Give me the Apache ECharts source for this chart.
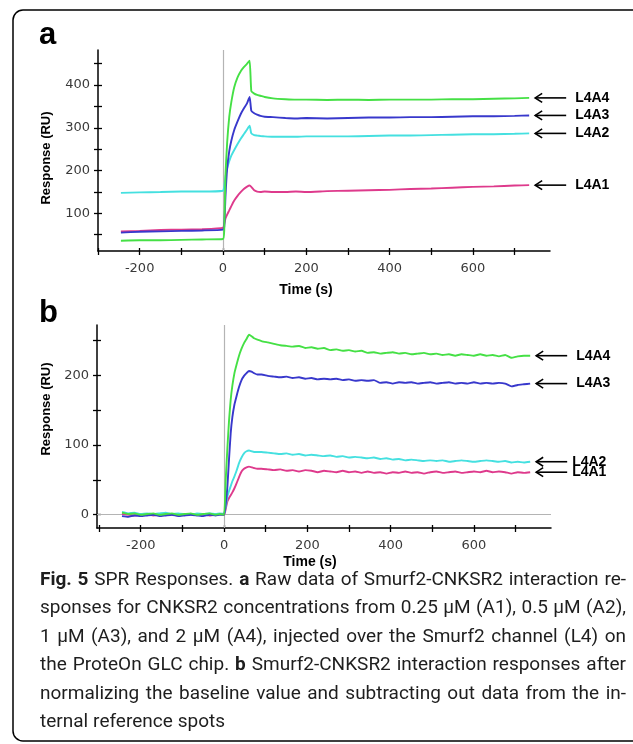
<!DOCTYPE html>
<html><head><meta charset="utf-8">
<script src="https://cdn.jsdelivr.net/npm/echarts@6/dist/echarts.min.js"></script>
<style>html,body{margin:0;padding:0;background:#fff}#c{width:633px;height:744px}</style>
</head><body><div id="c"></div>
<script>
// ---------- data ----------
const seriesNames = ['L4A1', 'L4A2', 'L4A3', 'L4A4'];
const seriesColors = ['#de3a8c', '#45e0e0', '#3838cc', '#45e045'];

// panel a: raw data
const timeA = [-245,-200,-150,-100,-50,0,3,6,10,15,20,27,35,43,50,57,64,68,75,82,90,100,120,150,175,200,250,300,350,400,450,500,550,600,650,700,735];
const a_L4A1 = [58,59,61,62,63,66,75,88,97,107,117,130,141,150,157,162,165,162,154,151,150,151,150,150,151,150,152,153,154,155,157,158,160,162,163,165,166];
const a_L4A2 = [148,149,150,151,151,153,162,185,205,222,235,248,262,275,285,295,305,287,283,282,281,280,279,279,279,280,280,280,281,282,282,283,284,285,285,286,287];
const a_L4A3 = [55,57,58,59,60,62,68,140,205,245,270,295,315,333,345,356,372,340,334,331,328,326,325,323,322,323,322,323,324,324,325,325,326,327,327,328,329];
const a_L4A4 = [36,37,37,38,39,40,60,190,265,325,360,395,418,433,442,449,457,386,380,377,375,372,369,367,366,366,365,366,365,366,366,366,367,367,368,369,370];

// panel b: normalized / reference subtracted
const timeB = [-245,-230,-215,-200,-185,-170,-155,-140,-125,-110,-95,-80,-65,-50,-35,-20,-10,0,
  4,8,12,16,20,25,30,36,42,48,54,60,66,72,80,
  90,105,120,135,150,165,180,195,210,225,240,255,270,285,300,315,330,345,360,375,390,405,420,435,450,465,480,495,510,525,540,555,570,585,600,615,630,645,660,675,690,705,720,735];
const b_L4A1 = [1,0,-1,0,1,-1,0,1,0,-1,0,1,0,0,-1,0,1,0,
  8,19,24,28,32,38,45,54,62,66,68,69,68,67,66,
  66,65,64,65,63,64,62,64,63,61,63,62,61,63,61,62,60,62,60,61,59,61,60,62,60,61,59,61,62,60,61,62,60,61,62,61,63,61,62,61,59,61,60,61];
const b_L4A2 = [4,2,3,1,2,1,2,3,1,2,1,0,2,1,2,1,2,1,
  12,26,34,41,48,55,63,74,82,88,91,92,91,90,90,
  90,89,88,87,88,86,87,85,86,85,84,85,83,84,82,83,82,81,82,80,81,79,80,78,79,78,77,78,77,78,76,77,78,77,76,77,78,77,76,77,75,76,75,76];
const b_L4A3 = [-2,-3,-1,-2,-1,0,-2,-1,0,-2,-1,0,-1,-2,0,-1,0,0,
  15,40,80,117,140,158,170,183,193,199,203,206,205,203,201,
  201,199,198,197,198,196,197,195,196,194,195,194,195,193,194,192,193,192,193,189,190,188,190,189,190,188,189,190,188,189,190,188,189,188,190,188,189,188,189,188,184,186,187,188];
const b_L4A4 = [3,1,2,0,1,2,0,1,2,0,1,2,0,1,2,0,1,0,
  50,95,135,165,185,203,215,228,238,246,252,258,256,253,251,
  249,247,245,243,242,241,242,239,240,238,239,236,237,235,236,234,235,232,233,231,232,233,231,232,230,231,232,230,231,229,230,228,230,229,228,230,228,229,227,229,225,227,228,228];

// axes ticks / labels
const xTickValues = [-300,-200,-100,0,100,200,300,400,500,600,700];
const xLabelValues = [-200,0,200,400,600];
const yTickValuesA = [50,100,150,200,250,300,350,400,450];
const yLabelValuesA = [100,200,300,400];
const yTickValuesB = [0,50,100,150,200,250];
const yLabelValuesB = [0,100,200];

// caption: [text, bold]
const captionLines = [
  [['Fig. 5', true], ['SPR Responses.', false], ['a', true], ['Raw data of Smurf2-CNKSR2 interaction re-', false]],
  [['sponses for CNKSR2 concentrations from 0.25 μM (A1), 0.5 μM (A2),', false]],
  [['1 μM (A3), and 2 μM (A4), injected over the Smurf2 channel (L4) on', false]],
  [['the ProteOn GLC chip.', false], ['b', true], ['Smurf2-CNKSR2 interaction responses after', false]],
  [['normalizing the baseline value and subtracting out data from the in-', false]],
  [['ternal reference spots', false]]
];

// ---------- chart ----------
const chart = echarts.init(document.getElementById('c'), null, {renderer: 'canvas'});
const LBL = {color: '#3a3a3a', fontFamily: 'DejaVu Sans', fontSize: 13};
const TICK = {color: '#000', width: 1.3};

function xAxes(gi, min, max) {
  return [
    {type: 'value', gridIndex: gi, min: min, max: max, position: 'bottom',
     axisLine: {onZero: false, lineStyle: {color: '#000', width: 1.5}},
     axisTick: {customValues: xTickValues, length: 4, lineStyle: TICK},
     axisLabel: Object.assign({customValues: xLabelValues, margin: 11}, LBL),
     splitLine: {show: false}},
    {type: 'value', gridIndex: gi, min: min, max: max, position: 'bottom',
     axisLine: {show: false, onZero: false},
     axisTick: {customValues: xTickValues, inside: true, length: 3, lineStyle: TICK},
     axisLabel: {show: false}, splitLine: {show: false}}
  ];
}
function yAxes(gi, min, max, ticks, labels) {
  return [
    {type: 'value', gridIndex: gi, min: min, max: max, position: 'left',
     axisLine: {show: true, onZero: false, lineStyle: {color: '#000', width: 1.5}},
     axisTick: {show: true, customValues: ticks, length: 4, lineStyle: TICK},
     axisLabel: Object.assign({customValues: labels, margin: 8}, LBL),
     splitLine: {show: false}},
    {type: 'value', gridIndex: gi, min: min, max: max, position: 'left',
     axisLine: {show: false, onZero: false},
     axisTick: {show: true, customValues: ticks, inside: true, length: 4, lineStyle: TICK},
     axisLabel: {show: false}, splitLine: {show: false}}
  ];
}

const gray = {color: '#b4b4b4', width: 1.2, type: 'solid'};
function mkSeries(times, vals, i, xi, yi, markData) {
  const s = {
    name: seriesNames[i], type: 'line', xAxisIndex: xi, yAxisIndex: yi,
    data: times.map((t, k) => [t, vals[k]]),
    showSymbol: false, symbol: 'none', smooth: 0.15,
    lineStyle: {color: seriesColors[i], width: 1.9},
    itemStyle: {color: seriesColors[i]},
    z: 3 + i, animation: false, silent: true
  };
  if (markData) {
    s.markLine = {silent: true, symbol: 'none', label: {show: false}, lineStyle: gray,
                  data: markData, z: 1, animation: false};
  }
  return s;
}

const aVals = [a_L4A1, a_L4A2, a_L4A3, a_L4A4];
const bVals = [b_L4A1, b_L4A2, b_L4A3, b_L4A4];
const series = [];
aVals.forEach((v, i) => series.push(mkSeries(timeA, v, i, 0, 0, i === 0 ? [{xAxis: 0}] : null)));
bVals.forEach((v, i) => series.push(mkSeries(timeB, v, i, 2, 2, i === 0 ? [{xAxis: 0}, {yAxis: 0}] : null)));

chart.setOption({
  animation: false,
  backgroundColor: '#fff',
  grid: [
    {left: 98, top: 50, width: 452, height: 201, containLabel: false, outerBoundsMode: 'none'},
    {left: 97, top: 325, width: 454, height: 203, containLabel: false, outerBoundsMode: 'none'}
  ],
  xAxis: [].concat(xAxes(0, -300, 785), xAxes(1, -305, 785)),
  yAxis: [].concat(yAxes(0, 12, 482, yTickValuesA, yLabelValuesA), yAxes(1, -19, 272, yTickValuesB, yLabelValuesB)),
  series: series
});

// ---------- annotations ----------
const g = [];
g.push({type: 'rect', z: 0, shape: {x: 13, y: 10, width: 640, height: 731, r: 10},
        style: {fill: null, stroke: '#000', lineWidth: 1.5}});
function txt(x, y, text, font, opts) {
  return {type: 'text', x: x, y: y, z: 10,
    style: Object.assign({text: text, font: font, fill: '#000', align: 'left', verticalAlign: 'middle',
                          textAlign: 'left', textVerticalAlign: 'middle'}, opts || {})};
}
g.push(txt(39, 35, 'a', 'bold 31px "Liberation Sans", Arial'));
g.push(txt(39, 313, 'b', 'bold 31px "Liberation Sans", Arial'));
const axTitle = 'bold 13px "Liberation Sans", Arial';
[[46, 158], [46, 409]].forEach(p => {
  g.push({type: 'text', x: p[0], y: p[1], rotation: Math.PI / 2, z: 10,
          style: {text: 'Response (RU)', font: axTitle, fill: '#000', align: 'center', verticalAlign: 'middle',
                  textAlign: 'center', textVerticalAlign: 'middle'}});
});
g.push(txt(306, 290, 'Time (s)', 'bold 14px "Liberation Sans", Arial', {align: 'center', textAlign: 'center'}));
g.push(txt(310, 562, 'Time (s)', 'bold 14px "Liberation Sans", Arial', {align: 'center', textAlign: 'center'}));

// arrows + series labels at each line end
function addArrow(seriesIndex, t, v, name, dx) {
  const p = chart.convertToPixel({seriesIndex: seriesIndex}, [t, v]);
  const hx = p[0] + 6, y = p[1];
  g.push({type: 'line', z: 10, shape: {x1: hx, y1: y, x2: hx + 31, y2: y}, style: {stroke: '#000', lineWidth: 1.6}});
  g.push({type: 'polyline', z: 10, shape: {points: [[hx + 7, y - 4.5], [hx, y], [hx + 7, y + 4.5]]},
          style: {stroke: '#000', lineWidth: 1.6, fill: null}});
  g.push(txt(hx + 40 + dx, y, name, 'bold 14px "Liberation Sans", Arial'));
}
aVals.forEach((v, i) => addArrow(i, timeA[timeA.length - 1], v[v.length - 1], seriesNames[i], 0));
bVals.forEach((v, i) => addArrow(4 + i, timeB[timeB.length - 1], v[v.length - 1], seriesNames[i], i < 2 ? -4 : 0));

// caption, justified like the journal layout
const capY = [580, 608.5, 637, 665.5, 694, 722];
const capLeft = 40, capRight = 626, capSize = 19;
const mctx = document.createElement('canvas').getContext('2d');
captionLines.forEach((segs, li) => {
  const words = [];
  segs.forEach(s => s[0].split(' ').forEach(w => { if (w) words.push([w, s[1]]); }));
  const fonts = words.map(w => (w[1] ? 'bold ' : '') + capSize + 'px Roboto');
  const widths = words.map((w, k) => { mctx.font = fonts[k]; return mctx.measureText(w[0]).width; });
  const total = widths.reduce((a, b) => a + b, 0);
  const last = li === captionLines.length - 1;
  let gap = last ? 0.26 * capSize : (capRight - capLeft - total) / (words.length - 1);
  let x = capLeft;
  words.forEach((w, k) => {
    g.push({type: 'text', x: x, y: capY[li], z: 10,
            style: {text: w[0], font: fonts[k], fill: '#1e1e1e', align: 'left', verticalAlign: 'middle',
                    textAlign: 'left', textVerticalAlign: 'middle'}});
    x += widths[k] + gap;
  });
});

chart.setOption({graphic: g});
</script>
</body></html>
